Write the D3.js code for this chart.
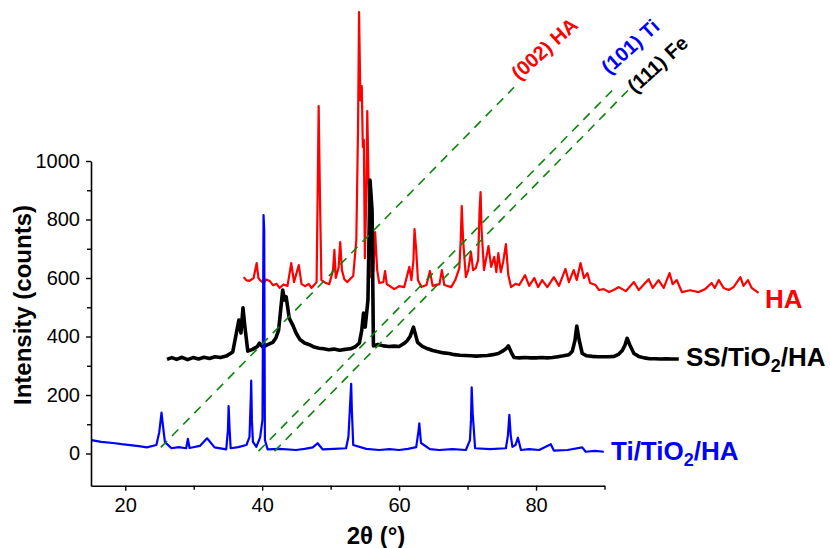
<!DOCTYPE html>
<html><head><meta charset="utf-8">
<script src="https://cdn.jsdelivr.net/npm/d3@7"></script>
<style>
body{margin:0;background:#fff}
svg{display:block}
text{font-family:"Liberation Sans",Arial,sans-serif}
</style>
</head><body>
<svg id="c" width="830" height="548"></svg>
<script>
// ---- data (displayed 2θ in degrees, displayed intensity in counts) ----
const xTicks = [20, 40, 60, 80];
const xMinorTicks = [30, 50, 70, 90];
const yTicks = [0, 200, 400, 600, 800, 1000];
const yMinorTicks = [100, 300, 500, 700, 900];

const tiTiO2HA = [
 [15.06,46],[16.5,40],[18.2,36],[19.5,32],[20.7,29],[22.0,25],[23.15,21],[24.55,29],[24.97,73],[25.3,140],[25.5,97],[25.8,39],
 [26.75,18],[27.8,22],[28.9,18],[29.15,50],[29.4,19],[30.9,26],[31.95,52],[33.05,21],[34.75,14],[35.0,80],
 [35.1,162],[35.25,80],[35.4,18],[36.5,22],[37.7,29],[38.15,57],[38.35,200],[38.4,249],[38.5,115],[38.65,40],
 [39.15,23],[39.7,55],[40.05,115],[40.2,815],[40.3,764],[40.4,46],[40.8,14],[42.5,16],[44.95,12],[46.2,16],[47.4,21],
 [48.1,35],[48.85,14],[50.5,16],[52.25,18],[52.6,57],[53.0,238],[53.1,149],[53.3,29],[55.2,16],[57.1,12],[58.6,15],[60.0,12],
 [61.3,16],[62.5,22],[62.85,80],[62.95,103],[63.2,36],[64.5,15],[65.85,12],[67.8,15],[69.75,12],[70.35,46],[70.5,115],[70.6,226],
 [70.75,138],[71.1,18],[73.3,15],[75.6,18],[75.9,63],[76.1,132],[76.3,63],[76.55,23],[77.0,29],[77.35,54],
 [77.8,12],[79.0,15],[80.45,12],[82.15,32],[82.6,10],[84.6,12],[86.75,21],[87.25,6],[88.6,9],[89.9,6]
];

const ssTiO2HA = [
 [26.1,322],[26.8,328],[27.5,322],[28.3,329],[29.1,321],[29.9,328],[30.7,323],[31.5,329],[32.3,325],[33.1,331],
 [33.9,328],[34.75,333],[35.7,347],[36.6,456],[36.9,412],[37.2,498],[37.45,439],[37.9,350],[38.6,356],[39.3,366],
 [39.6,377],[40.1,364],[40.8,372],[41.55,380],[42.0,395],[42.4,422],[43.0,559],[43.25,525],[43.5,536],[43.95,463],
 [44.45,440],[44.95,412],[45.5,390],[46.2,378],[46.9,372],[47.6,364],[48.3,360],[49.0,358],[49.7,355],[50.5,357],
 [51.3,353],[52.1,356],[52.9,358],[53.6,365],[54.2,378],[54.55,422],[54.8,480],[55.05,432],[55.45,525],[55.75,935],
 [56.05,832],[56.25,368],[56.9,373],[57.7,368],[58.5,366],[59.3,367],[60.0,366],[60.7,376],[61.2,386],[61.6,400],
 [62.1,432],[62.7,380],[63.4,366],[64.2,358],[64.9,352],[65.7,348],[66.5,344],[67.3,342],[68.1,338],[68.9,336],
 [69.7,335],[70.5,334],[71.3,333],[72.1,334],[72.9,335],[73.7,338],[74.5,342],[75.1,350],[75.6,358],[75.95,368],
 [76.4,345],[76.8,328],[77.6,327],[78.4,328],[79.2,327],[80.0,327],[80.8,328],[81.6,327],[82.4,328],[83.2,331],
 [84.0,334],[84.8,338],[85.3,350],[85.7,388],[85.95,436],[86.3,388],[86.75,342],[87.4,334],[88.2,332],[89.0,331],
 [89.8,331],[90.6,331],[91.4,332],[92.1,340],[92.6,352],[93.0,371],[93.3,394],[93.7,371],[94.3,342],[95.0,332],
 [95.8,327],[96.6,324],[97.4,324],[98.2,323],[99.0,324],[99.8,323],[100.85,323]
];

const ha = [
 [37.3,603],[37.7,592],[38.15,590],[38.75,600],[39.2,651],[39.45,600],[39.8,590],[40.2,583],[40.6,595],[41.1,590],[41.6,575],
 [42.1,580],[42.55,566],[43.1,578],[43.7,573],[44.25,651],[44.65,586],[45.35,644],[45.75,579],[46.3,572],[46.8,580],[47.2,566],[47.95,586],
 [48.15,979],[48.25,1188],[48.45,866],[48.65,593],[49.2,584],[49.8,579],[50.35,627],[50.55,696],[50.75,600],[51.15,634],[51.4,723],
 [51.65,627],[52.0,596],[52.45,586],[52.9,598],[53.3,607],[53.75,730],[54.0,1106],[54.15,1509],[54.35,1207],[54.55,1256],
 [54.7,1048],[54.85,1072],[55.0,668],[55.2,866],[55.35,1171],[55.6,866],[55.9,603],[56.25,627],
 [56.5,757],[56.8,627],[57.1,583],[57.7,586],[57.95,624],[58.2,579],[58.8,570],[59.3,562],[60.0,572],[60.75,569],[61.5,638],
 [61.8,593],[62.1,662],[62.25,767],[62.5,696],[62.75,593],[63.25,569],[64.0,576],[64.5,624],[64.9,573],
 [65.9,579],[66.25,627],[66.6,576],[67.6,569],[68.2,593],[68.8,634],[69.0,730],[69.15,846],[69.35,730],
 [69.75,603],[70.1,627],[70.5,689],[70.8,627],[71.2,634],[71.55,662],[71.75,832],[71.9,894],[72.05,764],
 [72.4,627],[73.05,709],[73.45,638],[73.9,672],[74.2,620],[74.5,685],[74.85,620],[75.2,655],[75.6,716],
 [75.95,610],[76.35,569],[77.0,580],[77.55,576],[78.4,610],[79.0,573],[79.75,600],[80.3,569],[80.9,593],[81.65,569],
 [82.6,603],[83.35,573],[84.3,631],[84.8,586],[85.5,627],[85.95,593],[86.5,651],[87.0,600],[87.5,617],
 [87.9,583],[88.7,576],[89.2,559],[89.9,562],[90.65,552],[91.4,560],[92.1,569],[93.1,555],[94.3,586],[95.0,559],[96.45,596],
 [97.05,566],[97.9,593],[98.65,566],[99.5,617],[99.95,579],[100.55,593],[101.3,552],[102.5,558],[103.75,552],
 [104.7,562],[105.65,583],[106.1,566],[106.7,593],[107.4,566],[108.15,559],[108.85,569],[109.85,603],[110.3,573],
 [110.95,593],[111.5,566],[112.5,549]
];

// reflection guide lines: [x1,y1,x2,y2] in data units
const guideLabels = ["(002) HA", "(101) Ti", "(111) Fe"];
const guideCoords = [
 [25.19, 21, 76.79, 1252],
 [39.47, 8, 91.2, 1243],
 [41.8, 8, 93.5, 1243]
];

// ---- chart ----
const svg = d3.select("#c");
svg.append("rect").attr("width",830).attr("height",548).attr("fill","#fff");

const x = d3.scaleLinear().domain([15, 90]).range([91, 604.5]);
const y = d3.scaleLinear().domain([-110, 1000]).range([485.7, 161]);

const line = d3.line().x(d => x(d[0])).y(d => y(d[1]));

// traces
const traces = [
 {data: ha, color: "#ff0000", w: 2.2},
 {data: ssTiO2HA, color: "#000000", w: 3.6},
 {data: tiTiO2HA, color: "#0000ff", w: 2.2}
];
traces.forEach(t => {
  svg.append("path").attr("d", line(t.data)).attr("fill","none")
    .attr("stroke", t.color).attr("stroke-width", t.w).attr("stroke-linejoin","round");
});

// guide lines
const guideColors = ["#ff0000", "#0000ff", "#000000"];
guideCoords.forEach(g => {
  svg.append("line")
    .attr("x1", x(g[0])).attr("y1", y(g[1])).attr("x2", x(g[2])).attr("y2", y(g[3]))
    .attr("stroke", "#0b840b").attr("stroke-width", 1.6).attr("stroke-dasharray", "9,7");
});
const guideTextPos = [[519, 81], [609, 75], [635, 94]];
guideLabels.forEach((s, i) => {
  svg.append("text").text(s)
    .attr("transform", `translate(${guideTextPos[i][0]},${guideTextPos[i][1]}) rotate(-42)`)
    .attr("font-size", 20).attr("font-weight", "bold").attr("fill", guideColors[i]);
});

// axes
const gx = svg.append("g").attr("transform", `translate(0,${y(-110)})`);
gx.call(d3.axisBottom(x).tickValues(xTicks).tickSize(5).tickPadding(7).tickSizeOuter(0).tickFormat(d3.format("d")));
const gxm = svg.append("g").attr("transform", `translate(0,${y(-110)})`);
gxm.call(d3.axisBottom(x).tickValues(xMinorTicks).tickSize(4).tickFormat("").tickSizeOuter(0));
gxm.select(".domain").remove();

const gy = svg.append("g").attr("transform", `translate(${x(15)},0)`);
gy.call(d3.axisLeft(y).tickValues(yTicks).tickSize(5).tickPadding(6).tickSizeOuter(0).tickFormat(d3.format("d")));
const gym = svg.append("g").attr("transform", `translate(${x(15)},0)`);
gym.call(d3.axisLeft(y).tickValues(yMinorTicks).tickSize(4).tickFormat("").tickSizeOuter(0));
gym.select(".domain").remove();

svg.selectAll(".domain").attr("stroke","#000").attr("stroke-width",1.6);
svg.selectAll(".tick line").attr("stroke","#000").attr("stroke-width",1.4);
svg.selectAll(".tick text").attr("font-size",20).attr("fill","#000")
   .attr("font-family",'"Liberation Sans",Arial,sans-serif');

// axis titles
svg.append("text").attr("transform","translate(31,305) rotate(-90)")
  .attr("text-anchor","middle").attr("font-size",24).attr("font-weight","bold").text("Intensity (counts)");
svg.append("text").attr("x",376).attr("y",544)
  .attr("text-anchor","middle").attr("font-size",24).attr("font-weight","bold").text("2θ (°)");

// series labels
function seriesLabel(px, py, color, parts) {
  const t = svg.append("text").attr("x", px).attr("y", py).attr("fill", color)
    .attr("font-size", 26).attr("font-weight", "bold");
  parts.forEach(p => {
    if (p.sub) {
      t.append("tspan").attr("font-size", 18).attr("dy", 6).text(p.s);
    } else {
      t.append("tspan").attr("dy", p.reset ? -6 : 0).text(p.s);
    }
  });
}
seriesLabel(765, 308, "#ff0000", [{s:"HA"}]);
seriesLabel(686, 366, "#000000", [{s:"SS/TiO"},{s:"2",sub:true},{s:"/HA",reset:true}]);
seriesLabel(611, 460, "#0000ff", [{s:"Ti/TiO"},{s:"2",sub:true},{s:"/HA",reset:true}]);
</script>
</body></html>
